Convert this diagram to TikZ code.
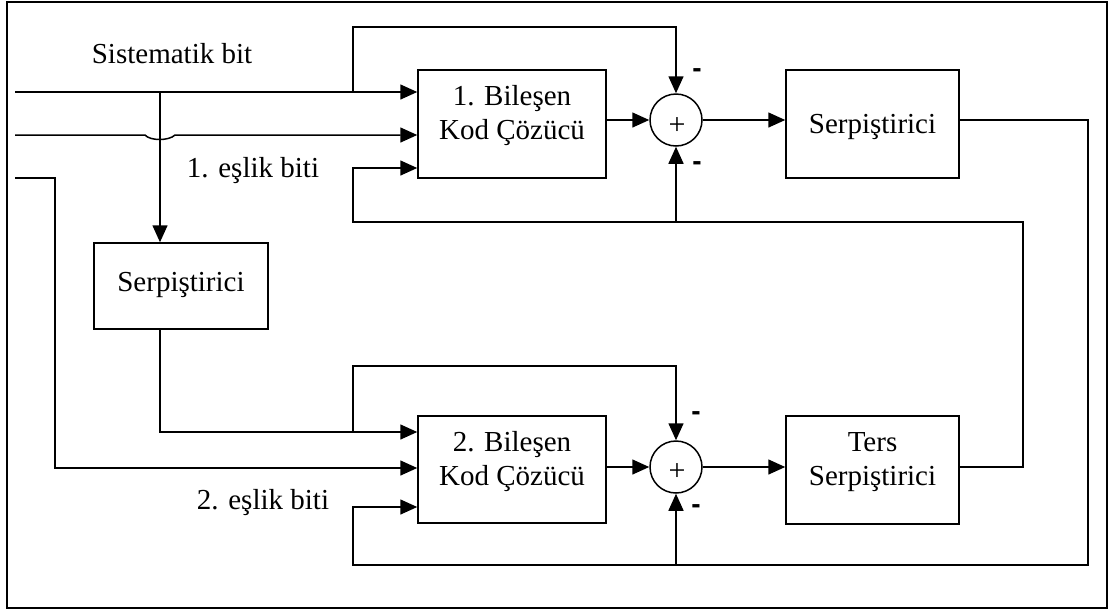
\documentclass[tikz,border=0pt]{standalone}
\usepackage{fontspec}
\setmainfont{Liberation Serif}
\newfontfamily\signfont{Liberation Sans}
\usetikzlibrary{arrows.meta}
\begin{document}
\begin{tikzpicture}[x=1pt,y=-1pt,
  wire/.style={line width=1.5pt},
  flow/.style={wire,-{Triangle[length=17pt,width=15pt]}},
  block/.style={draw,line width=1.5pt,inner sep=0pt},
  adder/.style={draw,circle,line width=1.5pt,minimum size=52pt,inner sep=0pt},
  txt/.style={font=\fontsize{29}{34}\selectfont,align=center,inner sep=0pt},
  plus/.style={font=\fontsize{30}{30}\selectfont,inner sep=0pt},
  sign/.style={font=\signfont\bfseries\fontsize{28}{28}\selectfont,inner sep=0pt}]

\useasboundingbox (0,0) rectangle (1109,611);
\draw[line width=1.5pt] (7,2) rectangle (1107,608);

% blocks
\node[block,minimum width=188pt,minimum height=108pt] (dec1) at (512,124) {};
\node[block,minimum width=188pt,minimum height=107pt] (dec2) at (512,469.5) {};
\node[block,minimum width=173pt,minimum height=108pt] (int1) at (872.5,124) {};
\node[block,minimum width=173pt,minimum height=108pt] (deint) at (872.5,470) {};
\node[block,minimum width=174pt,minimum height=86pt] (int0) at (181,286) {};
\node[adder] (sum1) at (676,120) {};
\node[adder] (sum2) at (676,467) {};

% block texts
\node[txt] (dec1t) at (512,116) {1. Bileşen\\Kod Çözücü};
\node[txt] (dec2t) at (512,462) {2. Bileşen\\Kod Çözücü};
\node[txt] (int1t) at (872.5,127) {Serpiştirici};
\node[txt] (deintt) at (872.5,462) {Ters\\Serpiştirici};
\node[txt] (int0t) at (181,285) {Serpiştirici};
\node[plus] (p1) at (677,126) {+};
\node[plus] (p2) at (677,472) {+};

% signs at the adders
\node[sign] (m1) at (697,73) {-};
\node[sign] (m2) at (697,166) {-};
\node[sign] (m3) at (696,416) {-};
\node[sign] (m4) at (696,509) {-};

% input labels
\node[txt,anchor=base] (lsys) at (172,63) {Sistematik bit};
\node[txt,anchor=base] (lp1) at (253,177) {1. eşlik biti};
\node[txt,anchor=base] (lp2) at (263,509) {2. eşlik biti};

% helper points
\coordinate (in1) at (15,92);
\coordinate (in2) at (15,135);
\coordinate (in3) at (15,178);
\coordinate (j1) at (160,92);
\coordinate (j2) at (353,92);
\coordinate (t1) at (353,27);
\coordinate (k1) at (55,178);
\coordinate (j3) at (353,432);
\coordinate (t2) at (353,366);
\coordinate (r1) at (1088,565);
\coordinate (k2) at (353,565);
\coordinate (r2) at (1023,222);
\coordinate (k3) at (353,222);
\coordinate (y168) at (0,168);
\coordinate (y432) at (0,432);
\coordinate (y468) at (0,468);
\coordinate (y507) at (0,507);

% systematic input and its branches
\draw[flow] (in1) -- (in1 -| dec1.west);
\draw[flow] (j1) -- (j1 |- int0.north);
\draw[flow] (j2) -- (t1) -| (sum1.north);

% first parity input, hopping over the branch
\draw[flow] (in2) -- (145,135) .. controls (150,141) and (169,141) .. (175,135) -- (in2 -| dec1.west);

% second parity input
\draw[flow] (in3) -- (k1) |- (dec2.west |- y468);

% interleaved systematic bits
\draw[flow] (int0.south -| j1) |- (dec2.west |- y432);
\draw[flow] (j3) -- (t2) -| (sum2.north);

% upper decoder path
\draw[flow] (dec1.east |- sum1) -- (sum1.west);
\draw[flow] (sum1.east) -- (int1.west |- sum1);
\draw[flow] (int1.east |- sum1) -| (r1) -- (k2) |- (dec2.west |- y507);
\draw[flow] (sum2.south |- r1) -- (sum2.south);

% lower decoder path
\draw[flow] (dec2.east |- sum2) -- (sum2.west);
\draw[flow] (sum2.east) -- (deint.west |- sum2);
\draw[flow] (deint.east |- sum2) -| (r2) -- (k3) |- (dec1.west |- y168);
\draw[flow] (sum1.south |- r2) -- (sum1.south);
\end{tikzpicture}
\end{document}
